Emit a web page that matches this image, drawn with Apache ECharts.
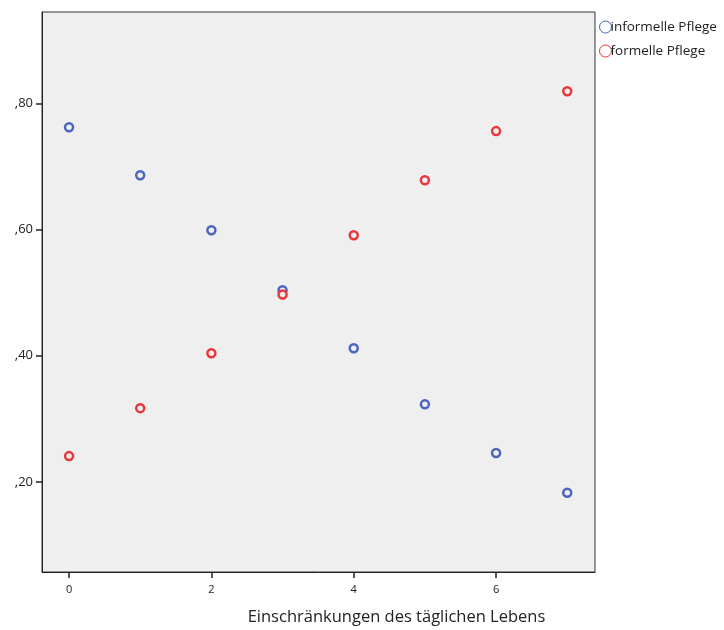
<!DOCTYPE html>
<html>
<head>
<meta charset="utf-8">
<script src="https://cdn.jsdelivr.net/npm/echarts@6/dist/echarts.min.js"></script>
<style>
html,body{margin:0;padding:0;background:#fff;}
#c{width:724px;height:630px;}
</style>
</head>
<body>
<div id="c"></div>
<script>
const categories = [0, 1, 2, 3, 4, 5, 6, 7];
const informellePflege = [0.762, 0.686, 0.599, 0.504, 0.412, 0.323, 0.246, 0.183];
const formellePflege = [0.241, 0.317, 0.404, 0.497, 0.591, 0.678, 0.756, 0.819];
const xTicks = [0, 2, 4, 6];
const yTicks = [0.2, 0.4, 0.6, 0.8];
const seriesNames = ['informelle Pflege', 'formelle Pflege'];
const colors = ['#4a64bf', '#e8363c'];

const chart = echarts.init(document.getElementById('c'));
const font = '"Open Sans", "DejaVu Sans", sans-serif';
function pts(vals){ return categories.map((c,i)=>[c, vals[i]]); }
function ser(name, vals, color){
  return {
    name: name, type: 'scatter', data: pts(vals),
    symbol: 'circle', symbolSize: 8,
    itemStyle: { color: '#efefef', borderColor: color, borderWidth: 2.5, opacity: 1 },
    emphasis: { disabled: true }
  };
}
chart.setOption({
  animation: false,
  backgroundColor: '#ffffff',
  grid: { left: 42, right: 129, top: 12, bottom: 58, containLabel: false, outerBoundsMode: 'none',
    show: true, backgroundColor: '#efefef', borderColor: '#333', borderWidth: 1 },
  legend: {
    orient: 'vertical', left: 594, top: 15, itemWidth: 12, itemHeight: 12, itemGap: 10,
    textStyle: { fontFamily: font, fontSize: 13.5, color: '#222', padding: [-8, 0, 0, -6] },
    data: seriesNames.map((n,i)=>({ name: n, icon: 'circle', itemStyle: { color: 'transparent', borderColor: colors[i], borderWidth: 1 } }))
  },
  xAxis: {
    type: 'value', min: -0.38, max: 7.39,
    axisLine: { show: true, onZero: false, lineStyle: { color: '#222', width: 1 } },
    axisTick: { show: true, length: 6, customValues: xTicks, lineStyle: { color: '#222', width: 1.5 } },
    axisLabel: { customValues: xTicks, fontFamily: font, fontSize: 11, color: '#222', margin: 12 },
    splitLine: { show: false },
    name: 'Einschränkungen des täglichen Lebens', nameLocation: 'middle', nameGap: 37,
    nameTextStyle: { fontFamily: font, fontSize: 16.5, color: '#222', padding: [0, 0, 0, 156] }
  },
  yAxis: {
    type: 'value', min: 0.0574, max: 0.9447,
    axisLine: { show: true, onZero: false, lineStyle: { color: '#222', width: 1 } },
    axisTick: { show: true, length: 6, customValues: yTicks, lineStyle: { color: '#222', width: 1.5 } },
    axisLabel: { customValues: yTicks, fontFamily: font, fontSize: 13, color: '#222', margin: 9,
      formatter: v => ',' + Math.round(v*100).toString().padStart(2,'0') },
    splitLine: { show: false }
  },
  series: [ser(seriesNames[0], informellePflege, colors[0]), ser(seriesNames[1], formellePflege, colors[1])]
});
</script>
</body>
</html>
